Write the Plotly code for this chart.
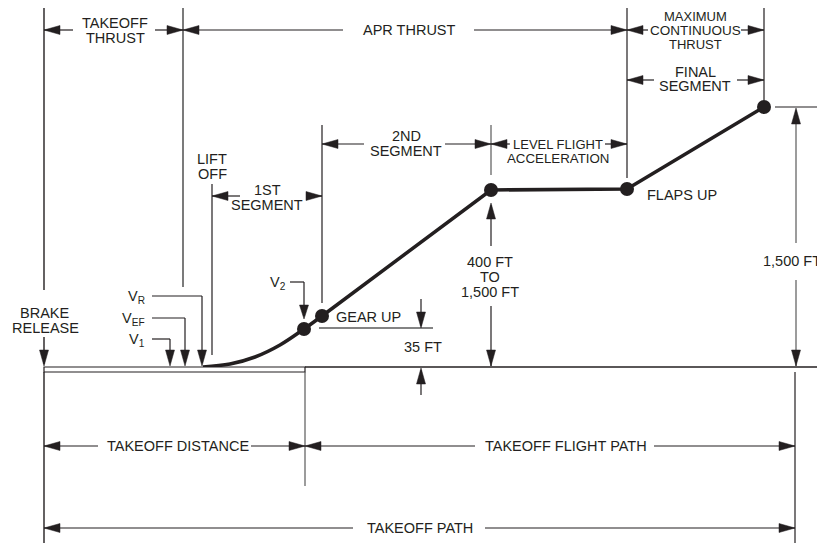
import plotly.graph_objects as go

W, H = 825, 543
PAGE_OFFSET = 8  # default body margin of the written page
INK = "#231f20"
GREY = "#5a5a5a"
FONT = "Liberation Sans, Arial, Helvetica, sans-serif"
FS = 14.5

# ---------------- data (diagram units: px along runway, px down from top) ----
GROUND_Y = 367
RUNWAY_END_X = 305
PATH_END_X = 795
# lift-off curve
CURVE_X = [203, 230, 255, 280, 304, 322]
CURVE_Y = [367, 364, 357, 345, 329, 316]
# climb / level / final segment
CLIMB_X = [322, 491, 627, 764]
CLIMB_Y = [316, 190, 189, 107]
# event dots: V2, gear up, end 2nd segment, flaps up, end final segment
DOT_X = [304, 322, 491, 627, 764]
DOT_Y = [329, 316, 190, 189, 107]
# speed markers on the runway
SPEED_LABELS = ["V<sub>R</sub>", "V<sub>EF</sub>", "V<sub>1</sub>"]
SPEED_X = [202, 185, 170]
SPEED_LABEL_Y = [296, 318, 339]

shapes = []
ann = []


def seg(x0, y0, x1, y1, color=INK, w=1.2):
    shapes.append(dict(type="line", xref="x", yref="y", x0=x0, y0=y0, x1=x1, y1=y1,
                       line=dict(color=color, width=w)))


def head(x, y, d, color=INK, L=16, hw=4.5):
    dx, dy = {"l": (-1, 0), "r": (1, 0), "u": (0, -1), "d": (0, 1)}[d]
    bx, by = x - dx * L, y - dy * L
    px, py = -dy * hw, dx * hw
    path = f"M{x},{y} L{bx + px},{by + py} L{bx - px},{by - py} Z"
    shapes.append(dict(type="path", xref="x", yref="y", path=path, fillcolor=color,
                       line=dict(color=color, width=0.5)))


def dim(y, x0, x1, g0, g1):
    seg(x0, y, g0, y)
    seg(g1, y, x1, y)
    head(x0, y, "l")
    head(x1, y, "r")


def txt(x, y, s, anchor="center", size=FS):
    ann.append(dict(x=x, y=y, xref="x", yref="y", text=s, showarrow=False,
                    xanchor=anchor, yanchor="middle",
                    font=dict(size=size, color=INK, family=FONT)))


# ---------------- ground and runway ----------------
seg(RUNWAY_END_X, GROUND_Y, 820, GROUND_Y, w=1.4)
shapes.append(dict(type="rect", xref="x", yref="y", x0=44, x1=RUNWAY_END_X,
                   y0=GROUND_Y, y1=GROUND_Y + 5, fillcolor="white",
                   line=dict(color=INK, width=1.2)))

# ---------------- vertical boundary lines ----------------
seg(44, 5, 44, 290, w=1.4)
seg(44, GROUND_Y + 5, 44, 543, w=1.4)
seg(183, 5, 183, 287, color=GREY, w=1.6)
seg(212, 184, 212, 355)
seg(322, 125, 322, 303)
seg(491, 125, 491, 175, color=GREY)
seg(627, 5, 627, 178)
seg(764, 5, 764, 100)
seg(RUNWAY_END_X, GROUND_Y + 5, RUNWAY_END_X, 486, color=GREY)
seg(PATH_END_X, GROUND_Y + 5, PATH_END_X, 543)

# ---------------- dimension arrows ----------------
dim(30, 44, 183, 73, 155)
dim(30, 183, 627, 343, 474)
dim(30, 627, 764, 648, 741)
dim(80, 627, 764, 654, 737)
dim(144, 322, 491, 364, 445)
dim(144, 491, 627, 510, 605)
dim(196, 212, 322, 240, 307)
dim(446, 44, RUNWAY_END_X, 98, 251)
dim(446, RUNWAY_END_X, PATH_END_X, 475, 654)
dim(528, 44, PATH_END_X, 353, 485)

# ---------------- height arrows ----------------
# 400 ft to 1,500 ft
seg(491, 205, 491, 246)
head(491, 203, "u")
seg(491, 306, 491, 366)
head(491, 366, "d")
# 1,500 ft
seg(775, 107, 820, 107)
seg(796, 110, 796, 243, color=GREY)
head(796, 108, "u")
seg(796, 280, 796, 366, color=GREY)
head(796, 366, "d")
# 35 ft
seg(319, 328, 433, 328, color=GREY, w=1.6)
seg(421, 299, 421, 326)
head(421, 328, "d")
seg(421, 370, 421, 395)
head(421, 368, "u")

# brake release arrow
seg(44, 337, 44, 364, w=1.4)
head(44, 366, "d")

# speed leaders
for lab, sx, ly in zip(SPEED_LABELS, SPEED_X, SPEED_LABEL_Y):
    seg(152, ly, sx, ly)
    seg(sx, ly, sx, 360)
    head(sx, 366, "d")
    txt(147, ly + 1, lab, anchor="right")

# V2 leader
seg(290, 282, 304, 282)
seg(304, 282, 304, 312)
head(304, 319, "d", L=14)
txt(288, 283, "V<sub>2</sub>", anchor="right")

# ---------------- texts ----------------
txt(115, 23, "TAKEOFF")
txt(115, 38, "THRUST")
txt(409, 30, "APR THRUST")
txt(695, 16, "MAXIMUM", size=13)
txt(695, 30, "CONTINUOUS", size=13.5)
txt(695, 44, "THRUST", size=13)
txt(695, 72, "FINAL")
txt(695, 86, "SEGMENT")
txt(406, 136, "2ND")
txt(406, 151, "SEGMENT")
txt(558, 144, "LEVEL FLIGHT", size=13)
txt(558, 158, "ACCELERATION", size=13.3)
txt(212, 159, "LIFT")
txt(212, 174, "OFF")
txt(267, 190, "1ST")
txt(267, 205, "SEGMENT")
txt(368, 317, "GEAR UP")
txt(423, 347, "35 FT")
txt(490, 262, "400 FT")
txt(490, 277, "TO")
txt(490, 292, "1,500 FT")
txt(792, 261, "1,500 FT")
txt(682, 195, "FLAPS UP")
txt(44, 313, "BRAKE")
txt(45, 328, "RELEASE")
txt(178, 446, "TAKEOFF DISTANCE")
txt(566, 446, "TAKEOFF FLIGHT PATH")
txt(420, 528, "TAKEOFF PATH")

# ---------------- traces ----------------
fig = go.Figure()
fig.add_trace(go.Scatter(x=CURVE_X, y=CURVE_Y, mode="lines",
                         line=dict(color=INK, width=3.5, shape="spline"),
                         hoverinfo="skip", showlegend=False))
fig.add_trace(go.Scatter(x=CLIMB_X, y=CLIMB_Y, mode="lines",
                         line=dict(color=INK, width=3.5),
                         hoverinfo="skip", showlegend=False))
fig.add_trace(go.Scatter(x=DOT_X, y=DOT_Y, mode="markers",
                         marker=dict(color=INK, size=14),
                         hoverinfo="skip", showlegend=False))

fig.update_layout(
    width=W - PAGE_OFFSET, height=H - PAGE_OFFSET,
    margin=dict(l=0, r=0, t=0, b=0),
    paper_bgcolor="white", plot_bgcolor="white",
    xaxis=dict(range=[PAGE_OFFSET, W], visible=False, fixedrange=True),
    yaxis=dict(range=[H, PAGE_OFFSET], visible=False, fixedrange=True),
    shapes=shapes, annotations=ann,
)
fig.write_html("out.html")
